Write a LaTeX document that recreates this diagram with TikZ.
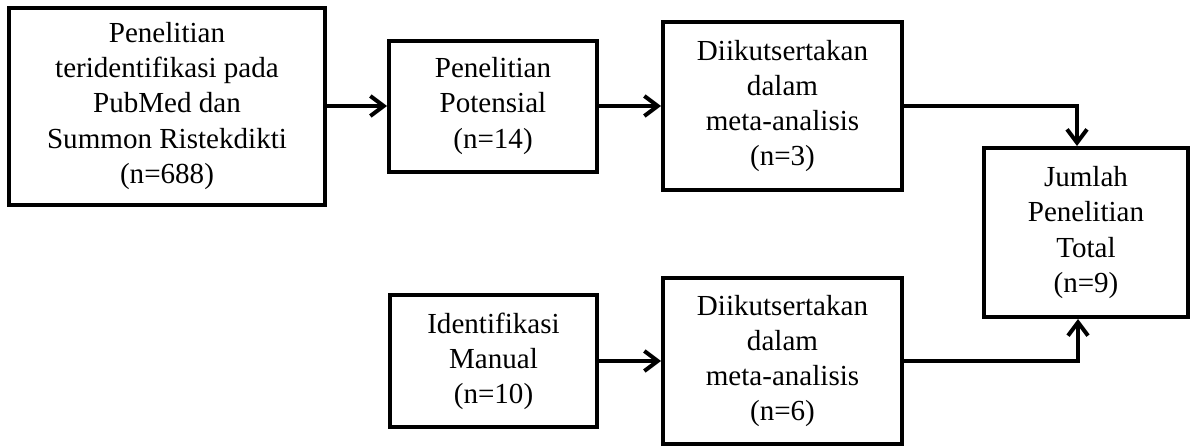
\documentclass[tikz,border=0pt]{standalone}
\usepackage{fontspec}
\setmainfont{Liberation Serif}
\usepackage{tikz}
\usetikzlibrary{arrows.meta,positioning}

\begin{document}
\begin{tikzpicture}[x=0.75pt, y=-0.75pt,
    box/.style={rectangle, draw=black, line width=3pt, align=center, inner sep=0pt, font=\fontsize{21.8}{26.3}\selectfont},
    flow/.style={-{Straight Barb[length=10pt, width=15pt]}, line width=3pt}]
    \useasboundingbox (0,0) rectangle (1192,446);
    \node[box, minimum width=237pt, minimum height=147.75pt] (found) at (167,106) {Penelitian\\teridentifikasi pada\\PubMed dan\\Summon Ristekdikti\\(n=688)};
    \node[box, minimum width=156pt, minimum height=98.25pt] (potential) at (493,106) {Penelitian\\Potensial\\(n=14)};
    \node[box, minimum width=179.25pt, minimum height=126pt] (included) at (782.5,106) {Diikutsertakan\\dalam\\meta-analisis\\(n=3)};
    \node[box, minimum width=153pt, minimum height=126.75pt] (total) at (1086,232.5) {Jumlah\\Penelitian\\Total\\(n=9)};
    \node[box, minimum width=155.25pt, minimum height=99pt] (manual) at (493.5,361) {Identifikasi\\Manual\\(n=10)};
    \node[box, minimum width=179.25pt, minimum height=124.5pt] (extra) at (782.5,361) {Diikutsertakan\\dalam\\meta-analisis\\(n=6)};

    \draw[flow] (found) -- (potential);
    \draw[flow] (potential) -- (included);
    \draw[flow] (included) -| ([xshift=-6.75pt]total.north);
    \draw[flow] (manual) -- (extra);
    \draw[flow] (extra) -| ([xshift=-6pt]total.south);
\end{tikzpicture}
\end{document}
